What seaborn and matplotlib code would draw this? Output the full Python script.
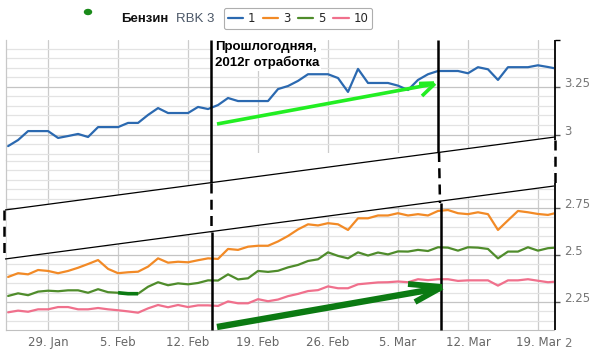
import numpy as np
import pandas as pd
import matplotlib
matplotlib.use("Agg")
import matplotlib.pyplot as plt
import matplotlib.dates as mdates
import matplotlib.transforms as mtransforms
from matplotlib.lines import Line2D
from matplotlib.patches import Ellipse, Polygon
import seaborn as sns

# ---------------- data ----------------
dates = pd.date_range("2013-01-25", periods=56, freq="D")

s1 = [2.939, 2.971, 3.018, 3.018, 3.018, 2.982, 2.992, 3.003, 2.987, 3.039,
      3.039, 3.039, 3.061, 3.061, 3.103, 3.139, 3.113, 3.113, 3.113, 3.145,
      3.134, 3.155, 3.192, 3.176, 3.176, 3.176, 3.176, 3.239, 3.255, 3.282,
      3.317, 3.317, 3.317, 3.297, 3.224, 3.345, 3.271, 3.271, 3.271, 3.257,
      3.234, 3.287, 3.317, 3.334, 3.334, 3.334, 3.322, 3.354, 3.343, 3.287,
      3.354, 3.354, 3.354, 3.364, 3.355, 3.345]
s3 = [2.383, 2.403, 2.397, 2.420, 2.415, 2.403, 2.415, 2.432, 2.452, 2.473,
      2.426, 2.403, 2.408, 2.411, 2.438, 2.482, 2.459, 2.464, 2.461, 2.472,
      2.482, 2.479, 2.532, 2.527, 2.544, 2.549, 2.549, 2.572, 2.601, 2.636,
      2.663, 2.657, 2.669, 2.663, 2.633, 2.695, 2.695, 2.710, 2.710, 2.722,
      2.710, 2.717, 2.710, 2.734, 2.739, 2.722, 2.717, 2.727, 2.717, 2.633,
      2.684, 2.734, 2.727, 2.718, 2.713, 2.726]
s5 = [2.282, 2.296, 2.286, 2.305, 2.310, 2.307, 2.312, 2.312, 2.299, 2.318,
      2.302, 2.299, 2.294, 2.294, 2.331, 2.355, 2.339, 2.349, 2.344, 2.351,
      2.365, 2.364, 2.397, 2.370, 2.376, 2.415, 2.410, 2.416, 2.434, 2.447,
      2.468, 2.477, 2.514, 2.495, 2.482, 2.514, 2.497, 2.513, 2.503, 2.519,
      2.518, 2.527, 2.521, 2.541, 2.539, 2.523, 2.541, 2.539, 2.532, 2.482,
      2.518, 2.518, 2.541, 2.523, 2.536, 2.540]
s10 = [2.195, 2.204, 2.198, 2.211, 2.211, 2.223, 2.223, 2.211, 2.211, 2.218,
       2.211, 2.206, 2.200, 2.193, 2.216, 2.234, 2.222, 2.234, 2.223, 2.232,
       2.232, 2.229, 2.253, 2.243, 2.243, 2.265, 2.254, 2.263, 2.281, 2.293,
       2.308, 2.313, 2.333, 2.323, 2.323, 2.344, 2.349, 2.354, 2.355, 2.359,
       2.355, 2.371, 2.366, 2.371, 2.371, 2.362, 2.365, 2.365, 2.365, 2.337,
       2.365, 2.365, 2.371, 2.363, 2.355, 2.359]

series_names = ["1", "3", "5", "10"]
palette = {"1": "#2b69b0", "3": "#f28a26", "5": "#4f8c2b", "10": "#f0708c"}

tick_dates = pd.date_range("2013-01-29", periods=8, freq="7D")
upper_ticks = [3.0, 3.25]
lower_ticks = [2.25, 2.5, 2.75]
bottom_label_value = 2.0
title_main = "Бензин"
title_sub = "RBK 3"
note_text = "Прошлогодняя,\n2012г отработка"
highlight_idx = [11, 12, 13]   # hand-drawn dark segment on series "5"

# ---------------- layout ----------------
sns.set_style("white")
plt.rcParams["font.family"] = ["DejaVu Sans"]

W, H = 593, 355
fig = plt.figure(figsize=(W / 100, H / 100), dpi=100)


def frac(x0, y0, x1, y1):
    return [x0 / W, 1 - y1 / H, (x1 - x0) / W, (y1 - y0) / H]


ax_top = fig.add_axes(frac(6, 40, 554, 160))
ax_bot = fig.add_axes(frac(6, 160, 554, 330))

df = pd.DataFrame({
    "date": np.tile(dates, 4),
    "value": s1 + s3 + s5 + s10,
    "series": np.repeat(series_names, len(dates)),
})

sns.lineplot(data=df[df.series == "1"], x="date", y="value", hue="series",
             palette=palette, ax=ax_top, legend=False, linewidth=1.6)
sns.lineplot(data=df[df.series != "1"], x="date", y="value", hue="series",
             hue_order=["3", "5", "10"], palette=palette, ax=ax_bot,
             legend=False, linewidth=1.6)
ax_bot.plot(dates[highlight_idx], [s5[i] for i in highlight_idx],
            color="#0b7a12", lw=2.6, solid_capstyle="butt", zorder=5)

xlim = (pd.Timestamp("2013-01-24 19:00"), pd.Timestamp("2013-03-20 14:30"))
ax_top.set_ylim(2.866, 3.497)
ax_bot.set_ylim(2.101, 3.005)

shift = mtransforms.ScaledTranslation(0, 5 / 100, fig.dpi_scale_trans)
for ax, ticks in ((ax_top, upper_ticks), (ax_bot, lower_ticks)):
    ax.set_xlim(*xlim)
    ax.set_xlabel("")
    ax.set_ylabel("")
    lo, hi = ax.get_ylim()
    ax.set_yticks(ticks)
    ax.set_yticklabels([f"{t:g}" for t in ticks])
    ax.set_yticks(np.arange(np.ceil(lo / 0.05) * 0.05, hi, 0.05), minor=True)
    ax.set_xticks(tick_dates)
    ax.yaxis.tick_right()
    ax.tick_params(axis="y", which="major", length=4, width=1, color="#555555",
                   pad=3, labelsize=8.5, labelcolor="#777777")
    ax.tick_params(axis="y", which="minor", length=0)
    ax.tick_params(axis="x", length=0)
    ax.grid(True, which="minor", axis="y", color="#e3e3e3", lw=0.9)
    ax.grid(True, which="major", axis="y", color="#c4c4c4", lw=0.9)
    ax.grid(True, which="major", axis="x", color="#cccccc", lw=0.9)
    ax.set_axisbelow(True)
    for side in ("top", "right"):
        ax.spines[side].set_visible(False)
    ax.spines["left"].set_color("#c8c8c8")
    ax.spines["left"].set_linewidth(0.9)
    for lbl in ax.get_yticklabels():
        lbl.set_transform(lbl.get_transform() + shift)

ax_top.spines["bottom"].set_visible(False)
ax_top.tick_params(axis="x", labelbottom=False)
ax_bot.spines["bottom"].set_color("#c0c0c0")
ax_bot.xaxis.set_major_formatter(mdates.DateFormatter("%-d. %b"))
ax_bot.tick_params(axis="x", labelsize=8.5, labelcolor="#666666", pad=4)

lbl_tr = mtransforms.blended_transform_factory(ax_bot.transAxes, ax_bot.transData) + shift
ax_bot.text(1.018, bottom_label_value, "2", transform=lbl_tr, ha="left",
            va="center", fontsize=8.5, color="#777777", clip_on=False)

# ---------------- title + legend ----------------
fig.text(121 / W, 1 - 19 / H, title_main, fontsize=9.5, fontweight="bold",
         family=["Liberation Sans"], va="center", ha="left", color="#111111")
fig.text(176 / W, 1 - 19 / H, title_sub, fontsize=9.5,
         family=["Liberation Sans"], va="center", ha="left", color="#4a5666")

handles = [Line2D([0], [0], color=palette[n], lw=1.6) for n in series_names]
leg = fig.legend(handles, series_names, ncol=4, loc="center",
                 bbox_to_anchor=(298 / W, 1 - 18.5 / H), fontsize=8.5,
                 frameon=True, fancybox=True, edgecolor="#9a9a9a",
                 handlelength=1.3, handletextpad=0.4, columnspacing=0.65,
                 borderpad=0.35)
leg.get_frame().set_linewidth(0.8)

# ---------------- hand-drawn annotations (pixel overlay) ----------------
ov = fig.add_axes([0, 0, 1, 1])
ov.set_xlim(0, W)
ov.set_ylim(H, 0)
ov.axis("off")
ov.set_zorder(10)

# white painted-over areas
ov.add_patch(Polygon([(6.5, 210), (553.5, 137), (553.5, 186), (6.5, 259)],
                     closed=True, facecolor="white", edgecolor="none", zorder=0))
ov.add_patch(Polygon([(212, 153), (553.5, 153), (553.5, 137), (212, 183)],
                     closed=True, facecolor="white", edgecolor="none", zorder=0))


def seg(p0, p1, **kw):
    ov.plot([p0[0], p1[0]], [p0[1], p1[1]], solid_capstyle="butt", zorder=2, **kw)


blk = dict(color="black", lw=1.8)
dash = dict(color="black", lw=1.8, linestyle=(0, (4, 2.5)))
# vertical marker lines
seg((211, 40), (211, 183), **blk)
seg((211, 183), (211, 232), **dash)
seg((212, 232), (212, 330), **blk)
seg((438, 40), (438, 152), **blk)
seg((439, 152), (440, 203), **dash)
seg((441, 203), (441, 330), **blk)
seg((555, 40), (555, 140), color="black", lw=1.3)
seg((555, 140), (555, 183), **dash)
seg((555, 183), (555, 330), color="black", lw=1.3)
seg((555, 40), (560, 40), color="black", lw=1.0)
seg((4, 210), (4, 258), **dash)
# channel lines
seg((5, 210), (555, 137), color="black", lw=0.9)
seg((5, 259), (554, 186), color="black", lw=0.9)
# lime arrow
lime = dict(color="#22ee22", lw=2.6)
seg((217, 124), (434, 84), **lime)
seg((419, 83.5), (434, 83), **lime)
seg((422, 96), (435, 83.5), **lime)
# dark green arrow
dg = dict(color="#0b7a12", lw=4.6)
seg((217, 327), (440, 288), **dg)
seg((408, 284), (442, 287), color="#0b7a12", lw=4.2)
seg((415, 302), (442, 287), color="#0b7a12", lw=4.2)
# stray green dot
ov.add_patch(Ellipse((88, 12), 7, 5, color="#1a8a1a"))

ov.text(215, 41, note_text, fontsize=9.5, fontweight="bold",
        family=["Liberation Sans"], va="top", ha="left", color="black",
        linespacing=1.25, zorder=3,
        bbox=dict(facecolor="white", edgecolor="none", pad=1.5))

fig.savefig("out.png", dpi=100)
